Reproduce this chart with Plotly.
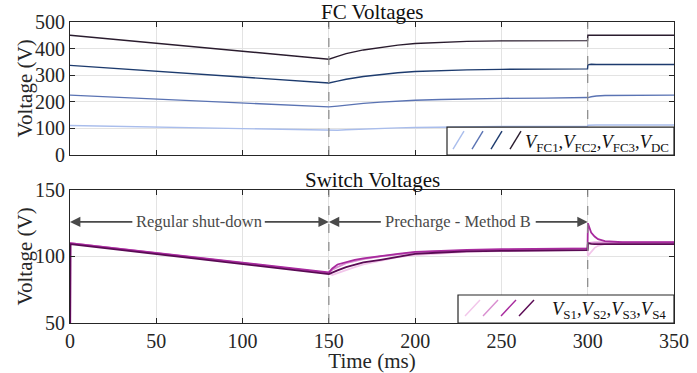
import plotly.graph_objects as go

# ---------------- data ----------------
t_fc = [0, 150, 155, 160, 170, 180, 190, 200, 215, 230, 250, 275, 299.9, 300.1, 302, 305, 310, 350]
v_dc = [450, 360, 371, 381, 395, 405, 413, 419, 424, 427, 429, 430, 430, 450, 450, 450, 450, 450]
v_fc3 = [337, 271, 278, 285, 295, 303, 309, 314, 318, 320, 322, 323, 324, 339, 341, 340, 340, 340]
v_fc2 = [225, 181, 184, 188, 194, 199, 203, 206, 209, 211, 213, 214, 215, 216, 219, 222, 224, 225]
v_fc1 = [111, 91, 93, 95, 98, 100, 102, 103.5, 105, 106, 107, 107.5, 108, 112, 113, 113, 113, 113]

t_sw = [0, 0.2, 150, 152, 155, 160, 165, 170, 180, 190, 200, 215, 230, 250, 275, 299.9,
        300.1, 301, 302, 304, 306, 310, 315, 320, 350]
v_s1 = [0, 110, 87.5, 86, 87.5, 90, 92, 94, 97, 99.5, 101, 102.5, 103.5, 104, 104.5, 105,
        100.5, 102, 104, 106.5, 108, 109.5, 110.3, 110.5, 110.5]
v_s2 = [0, 110, 87.5, 90, 92, 95, 96.5, 98, 100, 101.5, 103, 104, 104.5, 105, 105.5, 106,
        110, 110.3, 110.5, 110.5, 110.5, 110.5, 110.5, 110.5, 110.5]
v_s3 = [0, 110, 88, 91, 94, 96, 97.5, 98.5, 100.5, 102, 103.5, 104.5, 105, 105.5, 106, 106,
        125, 121, 118, 115, 113, 111.5, 111, 110.7, 110.7]
v_s4 = [0, 109.3, 86.8, 88, 89.5, 92, 94, 95.5, 97.5, 100, 102, 103, 103.8, 104.2, 104.5, 104.8,
        110, 109.6, 109.4, 109.3, 109.3, 109.3, 109.3, 109.3, 109.3]

fc_names = ["V_FC1", "V_FC2", "V_FC3", "V_DC"]
sw_names = ["V_S1", "V_S2", "V_S3", "V_S4"]
x_ticks = [0, 50, 100, 150, 200, 250, 300, 350]
events = [150, 300]

fc_colors = ["#a9bdec", "#5a73b3", "#1d3b6e", "#2a1c2e"]
sw_colors = ["#f2c6ea", "#d98fd0", "#a82a9e", "#5a0a54"]

FONT = "Liberation Serif"
fig = go.Figure()

for y, c, n in zip([v_fc1, v_fc2, v_fc3, v_dc], fc_colors, fc_names):
    fig.add_trace(go.Scatter(x=t_fc, y=y, mode="lines", name=n, line=dict(color=c, width=1.4),
                             xaxis="x", yaxis="y", showlegend=False))
for y, c, n in zip([v_s1, v_s2, v_s3, v_s4], sw_colors, sw_names):
    fig.add_trace(go.Scatter(x=t_sw, y=y, mode="lines", name=n, line=dict(color=c, width=1.8),
                             xaxis="x2", yaxis="y2", showlegend=False))

axis_common = dict(showline=True, linecolor="#262626", linewidth=1, mirror="allticks",
                   ticks="inside", ticklen=5, tickcolor="#262626", showgrid=True,
                   gridcolor="#e3e3e3", gridwidth=1, zeroline=False, automargin=False,
                   tickfont=dict(family=FONT, size=20, color="#262626"))

fig.update_layout(
    width=697, height=373,
    margin=dict(l=70, r=23, t=22, b=50),
    paper_bgcolor="white", plot_bgcolor="white",
    font=dict(family=FONT, size=20, color="#262626"),
    xaxis=dict(domain=[0, 1], anchor="y", range=[0, 350], tickvals=x_ticks, showticklabels=False,
               **axis_common),
    yaxis=dict(domain=[0.558, 1], anchor="x", range=[0, 500], dtick=100, **axis_common),
    xaxis2=dict(domain=[0, 1], anchor="y2", range=[0, 350], tickvals=x_ticks,
                title=dict(text="Time (ms)", standoff=1, font=dict(family=FONT, size=21)),
                **axis_common),
    yaxis2=dict(domain=[0, 0.442], anchor="x2", range=[50, 150], dtick=50, **axis_common),
)

# y-axis titles placed as rotated annotations
for xr, yr in [("x domain", "y domain"), ("x2 domain", "y2 domain")]:
    fig.add_annotation(text="Voltage (V)", xref=xr, yref=yr, x=0, y=0.5, xanchor="center",
                       yanchor="middle", xshift=-45, textangle=-90, showarrow=False,
                       font=dict(family=FONT, size=21, color="#262626"))

# event dashed lines
for xr, yr in [("x", "y domain"), ("x2", "y2 domain")]:
    for e in events:
        fig.add_shape(type="line", xref=xr, yref=yr, x0=e, x1=e, y0=0, y1=1,
                      line=dict(color="#888888", width=1.2, dash="dash"))

# titles
fig.add_annotation(text="FC Voltages", xref="x domain", yref="y domain", x=0.5, y=1,
                   yanchor="bottom", showarrow=False, yshift=-4,
                   font=dict(family=FONT, size=21, color="#111"))
fig.add_annotation(text="Switch Voltages", xref="x2 domain", yref="y2 domain", x=0.5, y=1,
                   yanchor="bottom", showarrow=False, yshift=-4,
                   font=dict(family=FONT, size=21, color="#111"))

# phase arrows
ya = 126
arrow_col = "#4a4a4a"
for head, tail in [(0, 37), (150, 112), (150, 181), (300, 269)]:
    fig.add_annotation(x=head, y=ya, ax=tail, ay=ya, xref="x2", yref="y2", axref="x2", ayref="y2",
                       text="", showarrow=True, arrowhead=2, arrowsize=1.3, arrowwidth=1.6,
                       arrowcolor=arrow_col)
fig.add_annotation(x=75, y=ya, xref="x2", yref="y2", text="Regular shut-down", showarrow=False,
                   font=dict(family=FONT, size=16.5, color=arrow_col))
fig.add_annotation(x=225, y=ya, xref="x2", yref="y2", text="Precharge - Method B", showarrow=False,
                   font=dict(family=FONT, size=16.5, color=arrow_col))

# custom legends (axis-domain coordinates)
def legend_box(xr, yr, x0, y1, colors, x_icon0, dx_icon, icon_w, icon_y0, icon_y1, label, lx, size):
    fig.add_shape(type="rect", xref=xr, yref=yr, x0=x0, x1=1, y0=0, y1=y1,
                  line=dict(color="#262626", width=1.2), fillcolor="white")
    for i, c in enumerate(colors):
        xi = x_icon0 + i * dx_icon
        fig.add_shape(type="line", xref=xr, yref=yr, x0=xi, x1=xi + icon_w, y0=icon_y0, y1=icon_y1,
                      line=dict(color=c, width=1.4))
    fig.add_annotation(text=label, xref=xr, yref=yr, x=lx, y=y1 / 2, xanchor="right", yanchor="middle",
                       showarrow=False, yshift=-2, font=dict(family=FONT, size=size, color="#111"))

pw = 604.0
ph = 133.0
fc_label = ",".join(f"<i>V</i><sub>{s}</sub>" for s in ["FC1", "FC2", "FC3", "DC"])
sw_label = ",".join(f"<i>V</i><sub>{s}</sub>" for s in ["S1", "S2", "S3", "S4"])
legend_box("x domain", "y domain", (447 - 70) / pw, 28 / ph, fc_colors,
           (453 - 70) / pw, 19 / pw, 11 / pw, 6 / ph, 24 / ph, fc_label, (671 - 70) / pw, 18.5)
legend_box("x2 domain", "y2 domain", (458 - 70) / pw, 28 / ph, sw_colors,
           (465 - 70) / pw, 18 / pw, 15 / pw, 7 / ph, 23 / ph, sw_label, (668 - 70) / pw, 18.5)

# remove the default 8px page margin so the figure sits at the window's top-left corner
fig.write_html("out.html", config={"displayModeBar": False},
               post_script="document.body.style.margin='0';")
